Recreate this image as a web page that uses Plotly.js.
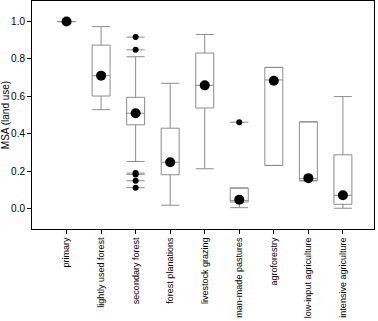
<!DOCTYPE html>
<html><head><meta charset="utf-8">
<script src="https://cdn.plot.ly/plotly-3.0.1.min.js"></script>
<style>html,body{margin:0;padding:0;background:#fff}#chart{width:378px;height:321px}</style>
</head><body><div id="chart"></div>
<script>
const categories = ["primary","lightly used forest","secondary forest","forest planations","livestock grazing","man-made pastures","agroforestry","low-input agriculture","intensive agriculture"];
const lowerWhisker = [1.0, 0.529, 0.252, 0.018, 0.213, 0.005, 0.231, 0.149, 0.002];
const q1Values     = [1.0, 0.602, 0.448, 0.181, 0.538, 0.035, 0.231, 0.149, 0.023];
const medianValues = [1.0, 0.711, 0.510, 0.248, 0.659, 0.044, 0.688, 0.160, 0.071];
const q3Values     = [1.0, 0.874, 0.595, 0.430, 0.832, 0.110, 0.755, 0.464, 0.288];
const upperWhisker = [1.0, 0.973, 0.812, 0.670, 0.931, 0.110, 0.755, 0.464, 0.599];
const meanValues   = [1.0, 0.711, 0.510, 0.248, 0.659, 0.048, 0.684, 0.163, 0.071];
const outlierCat   = [2, 2, 2, 2, 2, 2, 5];
const outlierVals  = [0.917, 0.849, 0.190, 0.183, 0.149, 0.112, 0.462];
const yTicks = [0, 0.2, 0.4, 0.6, 0.8, 1.0];
const yTickText = ["0.0","0.2","0.4","0.6","0.8","1.0"];

const idx = categories.map((c,i)=>i);
const grey = '#8c8c8c';
const traces = [
  {type:'box', x: idx, q1: q1Values, median: medianValues, q3: q3Values,
   lowerfence: lowerWhisker, upperfence: upperWhisker, width: 0.52, whiskerwidth: 1,
   fillcolor:'rgba(255,255,255,0)', line:{color:grey, width:1}, boxpoints:false, hoverinfo:'skip'},
  {type:'scatter', mode:'markers', x: outlierCat, y: outlierVals,
   marker:{symbol:'line-ew-open', size:13, color:grey, line:{color:grey, width:1}}, hoverinfo:'skip'},
  {type:'scatter', mode:'markers', x: outlierCat, y: outlierVals,
   marker:{symbol:'circle', size:6, color:'#000'}, hoverinfo:'skip'},
  {type:'scatter', mode:'markers', x: idx, y: meanValues,
   marker:{symbol:'circle', size:10, color:'#000'}, hoverinfo:'skip'}
];
const layout = {
  width:378, height:321, showlegend:false,
  margin:{l:32, r:4, t:1, b:92},
  paper_bgcolor:'#fff', plot_bgcolor:'#fff',
  font:{family:'Liberation Sans, Arial, sans-serif', color:'#000'},
  xaxis:{range:[-1.0, 8.9], tickvals: idx, ticktext: categories, tickangle:-90,
    ticks:'outside', ticklen:4, tickcolor:'#000', tickfont:{size:9},
    showgrid:false, zeroline:false, showline:true, linecolor:'#000', linewidth:1, mirror:true},
  yaxis:{range:[-0.109, 1.11], tickvals: yTicks, ticktext: yTickText,
    ticks:'outside', ticklen:4, tickcolor:'#000', tickfont:{size:10},
    showgrid:false, zeroline:false, showline:true, linecolor:'#000', linewidth:1, mirror:true,
    title:{text:'MSA (land use)', font:{size:10}, standoff:4}}
};
Plotly.newPlot('chart', traces, layout, {displayModeBar:false, staticPlot:true});
</script></body></html>
